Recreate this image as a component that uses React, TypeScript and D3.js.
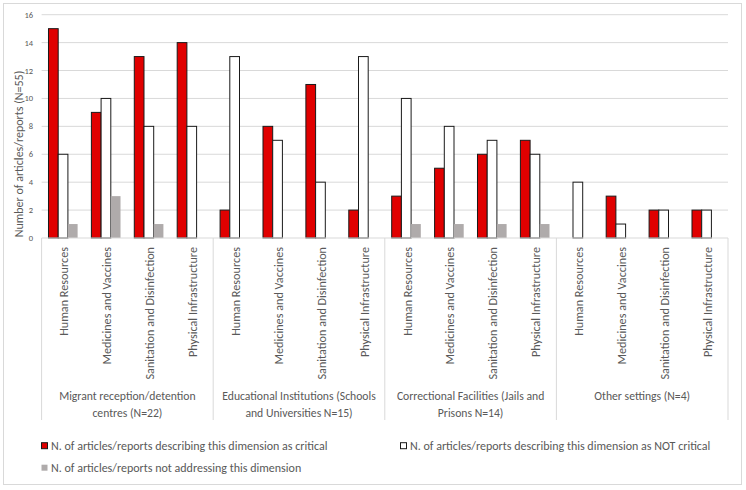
import React, { useEffect, useRef } from 'react';
import * as d3 from 'd3';

// settings (groups) and the dimensions inside each
const settings = [
    ['Migrant reception/detention', 'centres (N=22)'],
    ['Educational Institutions (Schools', 'and Universities N=15)'],
    ['Correctional Facilities (Jails and', 'Prisons N=14)'],
    ['Other settings (N=4)'],
];
const dimensions = ['Human Resources', 'Medicines and Vaccines', 'Sanitation and Disinfection', 'Physical Infrastructure'];

const seriesNames = [
    'N. of articles/reports describing this dimension as critical',
    'N. of articles/reports describing this dimension as NOT critical',
    'N. of articles/reports not addressing this dimension',
];

// values per category (settings x dimensions, in order)
const critical = [15, 9, 13, 14, 2, 8, 11, 2, 3, 5, 6, 7, 0, 3, 2, 2];
const notCritical = [6, 10, 8, 8, 13, 7, 4, 13, 10, 8, 7, 6, 4, 1, 2, 2];
const notAddressed = [1, 3, 1, 0, 0, 0, 0, 0, 1, 1, 1, 1, 0, 0, 0, 0];

const yTicks = [0, 2, 4, 6, 8, 10, 12, 14, 16];

const fills = ['#E00000', '#FFFFFF', '#AFABAB'];
const strokes = ['#1a1a1a', '#1a1a1a', 'none'];

const FONT = 'Carlito, Calibri, Lato, sans-serif';
const TEXT = '#595959';
const GRID = '#D9D9D9';

const Chart = () => {
    const ref = useRef(null);

    useEffect(() => {
        const svg = d3.select(ref.current);
        svg.selectAll('*').remove();

        const width = 746, height = 490;
        const left = 41.6, right = 728, top = 14.7, bottom = 238;

        svg.attr('width', width).attr('height', height).style('font-family', FONT);

        // outer chart border
        svg.append('rect')
            .attr('x', 3.5).attr('y', 3.5)
            .attr('width', 738).attr('height', 481)
            .attr('fill', '#fff').attr('stroke', GRID);

        const cats = d3.range(critical.length);
        const x = d3.scaleBand().domain(cats).range([left, right]).padding(0);
        const xs = d3.scaleBand().domain([0, 1, 2]).range([0, x.bandwidth()]).paddingInner(0).paddingOuter(0.71);
        const y = d3.scaleLinear().domain([0, 16]).range([bottom, top]);

        // gridlines
        svg.append('g').selectAll('line')
            .data(yTicks.slice(1))
            .enter().append('line')
            .attr('x1', left).attr('x2', right)
            .attr('y1', d => y(d)).attr('y2', d => y(d))
            .attr('stroke', GRID).attr('stroke-width', 1);

        // y tick labels
        svg.append('g').selectAll('text')
            .data(yTicks)
            .enter().append('text')
            .attr('x', 33).attr('y', d => y(d))
            .attr('dy', '0.35em')
            .attr('text-anchor', 'end')
            .attr('font-size', 8.5)
            .attr('fill', TEXT)
            .text(d => d);

        svg.append('text')
            .attr('transform', `translate(18.5,154) rotate(-90)`)
            .attr('text-anchor', 'middle')
            .attr('dy', '0.35em')
            .attr('font-size', 12)
            .attr('fill', TEXT)
            .text('Number of articles/reports (N=55)');

        // bars
        const series = [critical, notCritical, notAddressed];
        series.forEach((vals, s) => {
            svg.append('g').selectAll('rect')
                .data(vals.map((v, i) => ({ v, i })).filter(d => d.v > 0))
                .enter().append('rect')
                .attr('x', d => x(d.i) + xs(s))
                .attr('width', xs.bandwidth())
                .attr('y', d => y(d.v))
                .attr('height', d => bottom - y(d.v))
                .attr('fill', fills[s])
                .attr('stroke', strokes[s])
                .attr('stroke-width', 1);
        });

        // x axis line
        svg.append('line')
            .attr('x1', left).attr('x2', right)
            .attr('y1', bottom).attr('y2', bottom)
            .attr('stroke', GRID);

        // group separators
        const groupEdges = d3.range(settings.length + 1).map(g => left + g * dimensions.length * x.step());
        svg.append('g').selectAll('line')
            .data(groupEdges)
            .enter().append('line')
            .attr('x1', d => d).attr('x2', d => d)
            .attr('y1', bottom).attr('y2', 420)
            .attr('stroke', GRID);

        // category labels
        svg.append('g').selectAll('text')
            .data(cats)
            .enter().append('text')
            .attr('transform', d => `translate(${x(d) + x.bandwidth() / 2 + 1},247) rotate(-90)`)
            .attr('text-anchor', 'end')
            .attr('dy', '0.35em')
            .attr('font-size', 12.2)
            .attr('fill', TEXT)
            .text(d => dimensions[d % dimensions.length]);

        // group labels
        settings.forEach((lines, g) => {
            const cx = (groupEdges[g] + groupEdges[g + 1]) / 2;
            const t = svg.append('text')
                .attr('text-anchor', 'middle')
                .attr('font-size', 11.7)
                .attr('fill', TEXT);
            lines.forEach((ln, k) => {
                t.append('tspan').attr('x', cx).attr('y', 400 + k * 16.5).text(ln);
            });
        });

        // legend
        const legendPos = [[41.5, 445.7], [400.5, 445.7], [41.5, 467.7]];
        seriesNames.forEach((name, s) => {
            const [lx, ly] = legendPos[s];
            svg.append('rect')
                .attr('x', lx).attr('y', ly - 3)
                .attr('width', 6).attr('height', 6)
                .attr('fill', fills[s])
                .attr('stroke', strokes[s]);
            svg.append('text')
                .attr('x', lx + 9.5).attr('y', ly)
                .attr('dy', '0.35em')
                .attr('font-size', 12)
                .attr('fill', TEXT)
                .text(name);
        });
    }, []);

    return <svg ref={ref} style={{ display: 'block' }} />;
};

export default function App() {
    return (
        <>
            <style>{`body{margin:0}`}</style>
            <Chart />
        </>
    );
}
